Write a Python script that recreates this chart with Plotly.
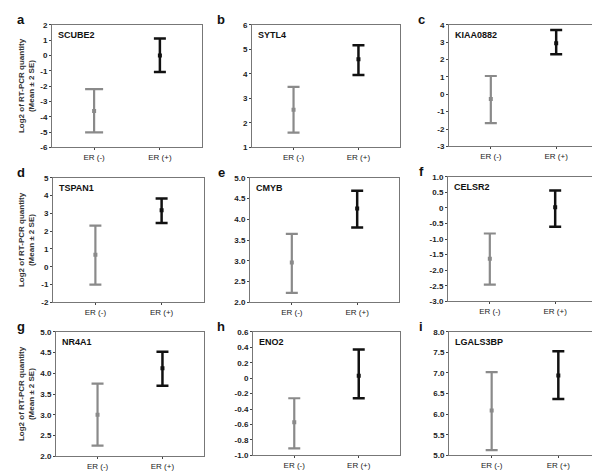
import plotly.graph_objects as go

W, H = 600, 473

genes = ["SCUBE2", "SYTL4", "KIAA0882", "TSPAN1", "CMYB", "CELSR2", "NR4A1", "ENO2", "LGALS3BP"]
letters = ["a", "b", "c", "d", "e", "f", "g", "h", "i"]
categories = ["ER (-)", "ER (+)"]

neg_mean = [-3.62, 2.53, -0.28, 0.67, 2.96, -1.63, 3.00, -0.57, 6.09]
neg_low = [-5.02, 1.60, -1.66, -1.00, 2.23, -2.46, 2.26, -0.91, 5.13]
neg_high = [-2.20, 3.47, 1.05, 2.31, 3.65, -0.82, 3.75, -0.26, 7.02]
pos_mean = [0.00, 4.59, 2.93, 3.17, 4.26, 0.02, 4.12, 0.03, 6.94]
pos_low = [-1.08, 3.95, 2.30, 2.46, 3.80, -0.60, 3.70, -0.26, 6.37]
pos_high = [1.10, 5.16, 3.70, 3.83, 4.69, 0.56, 4.52, 0.37, 7.53]

y_min = [-6, 1, -3, -2, 2.0, -3.0, 2.0, -1.0, 5.0]
y_max = [2, 6, 4, 5, 5.0, 1.0, 5.0, 0.6, 8.0]
y_step = [1, 1, 1, 1, 0.5, 0.5, 0.5, 0.2, 0.5]

# pixel boxes (left, right, top, bottom)
boxes = [
    (44, 194, 13, 138), (244, 392, 13, 138), (441, 590, 13, 137),
    (45, 196, 169, 296), (242, 391, 169, 296), (440, 589, 168, 295),
    (48, 196, 326, 453), (245, 392, 326, 452), (441, 593, 326, 452),
]

FONT = "Arial, Liberation Sans, sans-serif"
GREY = "#8a8a8a"
BLACK = "#111111"

fig = go.Figure()
annotations = []

def fmt(v, step):
    if step >= 1:
        return str(int(round(v)))
    if abs(v) < 1e-9:
        return "0"
    return f"{v:.1f}"

for i in range(9):
    l, r, t, b = boxes[i]
    xa = "xaxis" if i == 0 else f"xaxis{i+1}"
    ya = "yaxis" if i == 0 else f"yaxis{i+1}"
    xr = "x" if i == 0 else f"x{i+1}"
    yr = "y" if i == 0 else f"y{i+1}"
    n = int(round((y_max[i] - y_min[i]) / y_step[i]))
    tv = [y_min[i] + k * y_step[i] for k in range(n + 1)]
    tt = [fmt(v, y_step[i]) for v in tv]
    fig.update_layout(**{
        xa: dict(domain=[l / W, r / W], anchor=yr, range=[-0.64, 1.64],
                 tickvals=[0, 1], ticktext=categories, showline=True, mirror=True,
                 linecolor="#777777", linewidth=1, ticks="outside", ticklen=2,
                 tickcolor="#444444", showgrid=False, zeroline=False,
                 tickfont=dict(family=FONT, size=8, color="#222222")),
        ya: dict(domain=[1 - b / H, 1 - t / H], anchor=xr, range=[y_min[i], y_max[i]],
                 tickvals=tv, ticktext=tt, showline=True, mirror=True,
                 linecolor="#777777", linewidth=1, ticks="outside", ticklen=2,
                 tickcolor="#444444", showgrid=False, zeroline=False,
                 tickfont=dict(family=FONT, size=8, color="#222222", weight="bold")),
    })
    neg_w = 9 if i == 0 else 6
    fig.add_trace(go.Scatter(
        x=[0], y=[neg_mean[i]], xaxis=xr, yaxis=yr, mode="markers",
        marker=dict(color=GREY, size=4, symbol="square"),
        error_y=dict(type="data", symmetric=False,
                     array=[neg_high[i] - neg_mean[i]],
                     arrayminus=[neg_mean[i] - neg_low[i]],
                     color=GREY, thickness=2.2, width=neg_w),
        showlegend=False, hoverinfo="skip"))
    fig.add_trace(go.Scatter(
        x=[1], y=[pos_mean[i]], xaxis=xr, yaxis=yr, mode="markers",
        marker=dict(color=BLACK, size=4, symbol="square"),
        error_y=dict(type="data", symmetric=False,
                     array=[pos_high[i] - pos_mean[i]],
                     arrayminus=[pos_mean[i] - pos_low[i]],
                     color=BLACK, thickness=2.5, width=6),
        showlegend=False, hoverinfo="skip"))
    # gene name
    annotations.append(dict(x=(l + 4) / W, y=1 - (t + 3) / H, xref="paper", yref="paper",
                            text=f"<b>{genes[i]}</b>", showarrow=False, xanchor="left",
                            yanchor="top", font=dict(family=FONT, size=9, color="#111111")))
    # panel letter
    col = i % 3
    lx = [13, 213, 413][col]
    annotations.append(dict(x=lx / W, y=1 - (t - 5) / H, xref="paper", yref="paper",
                            text=f"<b>{letters[i]}</b>", showarrow=False, xanchor="center",
                            yanchor="middle", font=dict(family=FONT, size=13, color="#111111")))
    if col == 0:
        cy = 1 - ((t + b) / 2) / H
        annotations.append(dict(x=13 / W, y=cy, xref="paper", yref="paper",
                                text="<b>Log2 of RT-PCR quantity</b>", showarrow=False,
                                textangle=-90, xanchor="center", yanchor="middle",
                                font=dict(family=FONT, size=8, color="#333333")))
        annotations.append(dict(x=23 / W, y=cy, xref="paper", yref="paper",
                                text="<b>(Mean ± 2 SE)</b>", showarrow=False,
                                textangle=-90, xanchor="center", yanchor="middle",
                                font=dict(family=FONT, size=8, color="#333333")))

fig.update_layout(width=W, height=H, margin=dict(l=0, r=0, t=0, b=0),
                  paper_bgcolor="white", plot_bgcolor="white",
                  annotations=annotations, showlegend=False)

fig.write_html("out.html")
